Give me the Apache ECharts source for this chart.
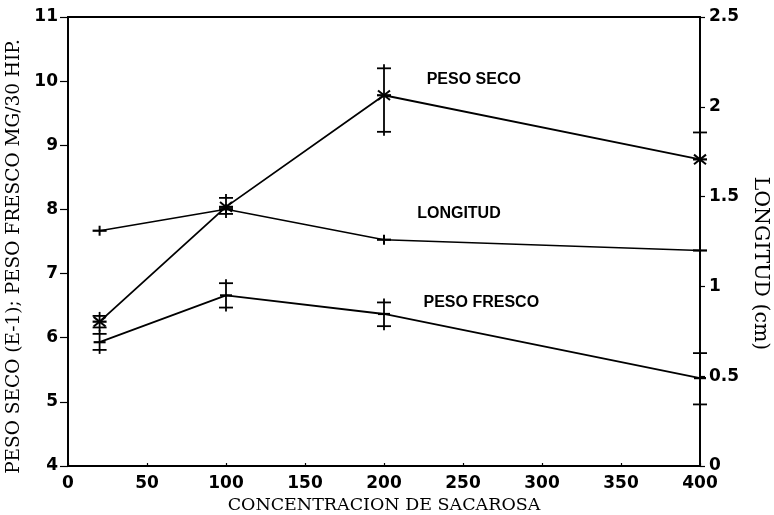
<!DOCTYPE html>
<html>
<head>
<meta charset="utf-8">
<script src="https://cdn.jsdelivr.net/npm/echarts@6/dist/echarts.min.js"></script>
<style>
  html, body { margin: 0; padding: 0; background: #fff; }
  #chart { width: 774px; height: 515px; }
</style>
</head>
<body>
<div id="chart"></div>
<script>
// Sucrose concentration levels
const concentracion = [20, 100, 200, 400];

// Dry weight (E-1 mg / 30 hypocotyls), left axis
const pesoSeco   = [6.25, 8.04, 9.78, 8.78];
const pesoSecoHi = [6.34, 8.18, 10.20, 9.20];
const pesoSecoLo = [6.16, 7.93, 9.21, null];

// Fresh weight (mg / 30 hypocotyls), left axis
const pesoFresco   = [5.93, 6.66, 6.37, 5.37];
const pesoFrescoHi = [6.06, 6.85, 6.55, 5.76];
const pesoFrescoLo = [5.81, 6.47, 6.18, 4.96];

// Length (cm), right axis
const longitud = [1.31, 1.43, 1.26, 1.20];

// Axis tick values
const xTicks = [0, 50, 100, 150, 200, 250, 300, 350, 400];
const leftTicks = [4, 5, 6, 7, 8, 9, 10, 11];
const rightTicks = [0, 0.5, 1, 1.5, 2, 2.5];

// In-plot series labels: [text, x, y on left axis]
const seriesLabels = [
  ['PESO SECO', 227, 10.03],
  ['LONGITUD', 221, 7.93],
  ['PESO FRESCO', 225, 6.55]
];

const INK = '#000';
const tickFont = { color: INK, fontFamily: 'DejaVu Sans, sans-serif', fontWeight: 'bold', fontSize: 17 };
const titleFont = { color: INK, fontFamily: 'DejaVu Serif, serif', fontSize: 17.5 };

function pairs(xs, ys) { return xs.map((x, i) => [x, ys[i]]); }

// Error bars with "+"-shaped caps and a marker at the mean
function makeErrorRender(hi, lo, marker) {
  return function (params, api) {
    const i = params.dataIndex;
    const x = api.value(0), y = api.value(1);
    const p = api.coord([x, y]);
    const children = [];
    const st = { stroke: INK, lineWidth: 1.8 };
    const cw = 7, ext = 4;
    const top = hi[i] != null ? api.coord([x, hi[i]])[1] : p[1];
    const bot = lo[i] != null ? api.coord([x, lo[i]])[1] : p[1];
    const y1 = hi[i] != null ? top - ext : p[1];
    const y2 = lo[i] != null ? bot + ext : p[1];
    children.push({ type: 'line', shape: { x1: p[0], y1: y1, x2: p[0], y2: y2 }, style: st });
    if (hi[i] != null) children.push({ type: 'line', shape: { x1: p[0] - cw, y1: top, x2: p[0] + cw, y2: top }, style: st });
    if (lo[i] != null) children.push({ type: 'line', shape: { x1: p[0] - cw, y1: bot, x2: p[0] + cw, y2: bot }, style: st });
    if (marker === 'star') {
      const r = 6;
      children.push({ type: 'line', shape: { x1: p[0] - r - 1, y1: p[1], x2: p[0] + r + 1, y2: p[1] }, style: { stroke: INK, lineWidth: 2.2 } });
      children.push({ type: 'line', shape: { x1: p[0] - r, y1: p[1] - r * 0.8, x2: p[0] + r, y2: p[1] + r * 0.8 }, style: { stroke: INK, lineWidth: 2 } });
      children.push({ type: 'line', shape: { x1: p[0] - r, y1: p[1] + r * 0.8, x2: p[0] + r, y2: p[1] - r * 0.8 }, style: { stroke: INK, lineWidth: 2 } });
    } else {
      children.push({ type: 'line', shape: { x1: p[0] - 6, y1: p[1], x2: p[0] + 6, y2: p[1] }, style: { stroke: INK, lineWidth: 2.2 } });
    }
    return { type: 'group', children: children };
  };
}

// Plain "+" markers on the length curve
function plusRender(params, api) {
  const p = api.coord([api.value(0), api.value(1)]);
  return {
    type: 'group',
    children: [
      { type: 'line', shape: { x1: p[0] - 7, y1: p[1], x2: p[0] + 7, y2: p[1] }, style: { stroke: INK, lineWidth: 2.2 } },
      { type: 'line', shape: { x1: p[0], y1: p[1] - 5, x2: p[0], y2: p[1] + 5 }, style: { stroke: INK, lineWidth: 2 } }
    ]
  };
}

const chart = echarts.init(document.getElementById('chart'), null, { renderer: 'canvas' });

chart.setOption({
  animation: false,
  backgroundColor: '#fff',
  grid: {
    left: 68, right: 74, top: 17, bottom: 49, containLabel: false, outerBoundsMode: 'none',
    show: true, borderColor: INK, borderWidth: 1.8, backgroundColor: 'transparent'
  },
  xAxis: {
    type: 'value', min: xTicks[0], max: xTicks[xTicks.length - 1], interval: 50,
    name: 'CONCENTRACION DE SACAROSA', nameLocation: 'middle', nameGap: 27, nameTextStyle: titleFont,
    axisLine: { lineStyle: { color: INK, width: 1.8 } },
    axisTick: { show: true, inside: true, length: 3, lineStyle: { color: INK, width: 1.2 } },
    axisLabel: Object.assign({ margin: 9 }, tickFont),
    splitLine: { show: false }
  },
  yAxis: [
    {
      type: 'value', position: 'left', min: leftTicks[0], max: leftTicks[leftTicks.length - 1], interval: 1,
      name: 'PESO SECO (E-1); PESO FRESCO MG/30 HIP.', nameLocation: 'middle', nameGap: 43,
      nameTextStyle: Object.assign({}, titleFont, { fontSize: 18.5, padding: [0, 30, 0, 0] }),
      axisLine: { show: true, lineStyle: { color: INK, width: 1.8 } },
      axisTick: { show: true, length: 8, lineStyle: { color: INK, width: 1.2 } },
      axisLabel: Object.assign({ margin: 10 }, tickFont),
      splitLine: { show: false }
    },
    {
      type: 'value', position: 'right', min: rightTicks[0], max: rightTicks[rightTicks.length - 1], interval: 0.5,
      name: 'LONGITUD (cm)', nameLocation: 'middle', nameGap: 48, nameRotate: -90,
      nameTextStyle: Object.assign({}, titleFont, { fontSize: 20.5, padding: [0, 0, 0, 44] }),
      axisLine: { show: true, lineStyle: { color: INK, width: 1.8 } },
      axisTick: { show: true, length: 5, lineStyle: { color: INK, width: 1.2 } },
      axisLabel: Object.assign({ margin: 9, formatter: v => String(v) }, tickFont),
      splitLine: { show: false }
    }
  ],
  series: [
    {
      name: 'PESO SECO', type: 'line', yAxisIndex: 0, data: pairs(concentracion, pesoSeco),
      symbol: 'none', lineStyle: { color: INK, width: 1.8 }
    },
    {
      name: 'PESO FRESCO', type: 'line', yAxisIndex: 0, data: pairs(concentracion, pesoFresco),
      symbol: 'none', lineStyle: { color: INK, width: 1.8 }
    },
    {
      name: 'LONGITUD', type: 'line', yAxisIndex: 1, data: pairs(concentracion, longitud),
      symbol: 'none', lineStyle: { color: INK, width: 1.5 }
    },
    {
      type: 'custom', yAxisIndex: 0, data: pairs(concentracion, pesoSeco),
      renderItem: makeErrorRender(pesoSecoHi, pesoSecoLo, 'star'), z: 5
    },
    {
      type: 'custom', yAxisIndex: 0, data: pairs(concentracion, pesoFresco),
      renderItem: makeErrorRender(pesoFrescoHi, pesoFrescoLo, 'plus'), z: 5
    },
    {
      type: 'custom', yAxisIndex: 1, data: pairs(concentracion, longitud),
      renderItem: plusRender, z: 5
    },
    {
      type: 'scatter', yAxisIndex: 0, symbolSize: 0, silent: true,
      itemStyle: { opacity: 1 },
      data: seriesLabels.map(d => ({ value: [d[1], d[2]], name: d[0] })),
      label: {
        show: true, position: 'right', distance: 0, formatter: p => p.name, opacity: 1,
        color: INK, textBorderWidth: 0, fontFamily: 'Liberation Sans, Arial, sans-serif', fontWeight: 'bold', fontSize: 16
      }
    }
  ]
});
</script>
</body>
</html>
